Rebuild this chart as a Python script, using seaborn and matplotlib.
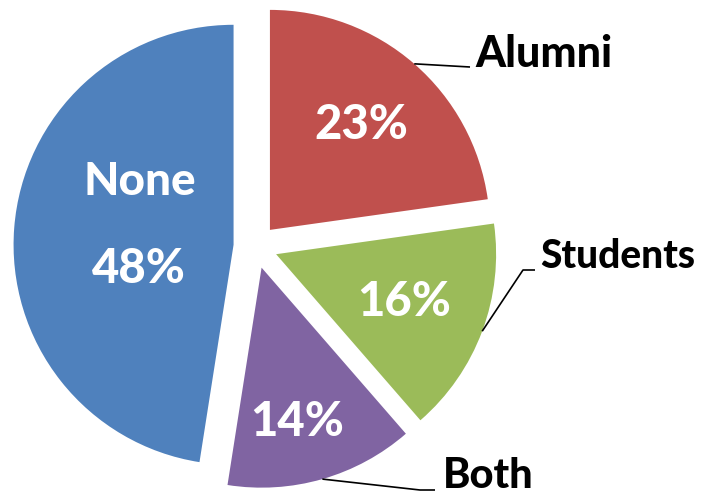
import numpy as np
import matplotlib
matplotlib.use("Agg")
import matplotlib.pyplot as plt
import seaborn as sns

sns.set_theme(style="white")
plt.rcParams["font.family"] = ["Lato", "DejaVu Sans"]

# Survey shares by group (percent)
categories = ["Alumni", "Students", "Both", "None"]
shares = [23, 16, 14, 48]
palette = sns.color_palette(["#C0504D", "#9BBB59", "#8064A2", "#4F81BD"])

W, H, DPI = 709, 494, 100
fig = plt.figure(figsize=(W / DPI, H / DPI), dpi=DPI)
ax = fig.add_axes([0, 0, 1, 1])

# pixel -> data helpers (pie centre at (255.5, 246.5) px, radius 220 px)
CX, CY, R = 255.5, 246.5, 220.0
def px(x):
    return (x - CX) / R
def py(y):
    return (CY - y) / R

wedges, _ = ax.pie(shares, colors=palette, startangle=90, counterclock=False,
                   explode=[0.1] * len(shares), radius=1.0,
                   wedgeprops=dict(linewidth=0))
ax.set_xlim(px(0), px(W))
ax.set_ylim(py(H), py(0))
ax.set_aspect("equal")
ax.axis("off")

pct_dist = [0.63, 0.62, 0.73, 0.43]
nudge_px = [(0, 0), (0, 0), (-9, 0), (0, -12)]
pct_size = 34
WEIGHT = 900
for w, cat, val, d, (nx, ny) in zip(wedges, categories, shares, pct_dist, nudge_px):
    mid = np.deg2rad((w.theta1 + w.theta2) / 2)
    cx, cy = w.center
    tx = cx + d * np.cos(mid) + nx / R
    ty = cy + d * np.sin(mid) - ny / R
    if cat == "None":
        ax.text(tx, ty + 0.198, cat, color="white", fontsize=pct_size - 1,
                fontweight=WEIGHT, ha="center", va="center")
        ax.text(tx, ty - 0.198, f"{val}%", color="white", fontsize=pct_size,
                fontweight=WEIGHT, ha="center", va="center")
    else:
        ax.text(tx, ty, f"{val}%", color="white", fontsize=pct_size,
                fontweight=WEIGHT, ha="center", va="center")

# outside category labels with leader lines
leaders = {
    "Alumni": ([(470, 67)], (475, 67), 31),
    "Students": ([(523, 270), (535, 270)], (540, 268), 28),
    "Both": ([(420, 490), (435, 490)], (443, 488), 30),
}
for w, cat in zip(wedges, categories):
    if cat not in leaders:
        continue
    pts, (lx, ly), size = leaders[cat]
    mid = np.deg2rad((w.theta1 + w.theta2) / 2)
    cx, cy = w.center
    xs = [cx + np.cos(mid)] + [px(p[0]) for p in pts]
    ys = [cy + np.sin(mid)] + [py(p[1]) for p in pts]
    ax.plot(xs, ys, color="black", lw=1.2, solid_capstyle="butt")
    ax.text(px(lx), py(ly), cat, color="black", fontsize=size,
            fontweight=WEIGHT, ha="left", va="baseline")

fig.savefig("out.png", dpi=DPI)
